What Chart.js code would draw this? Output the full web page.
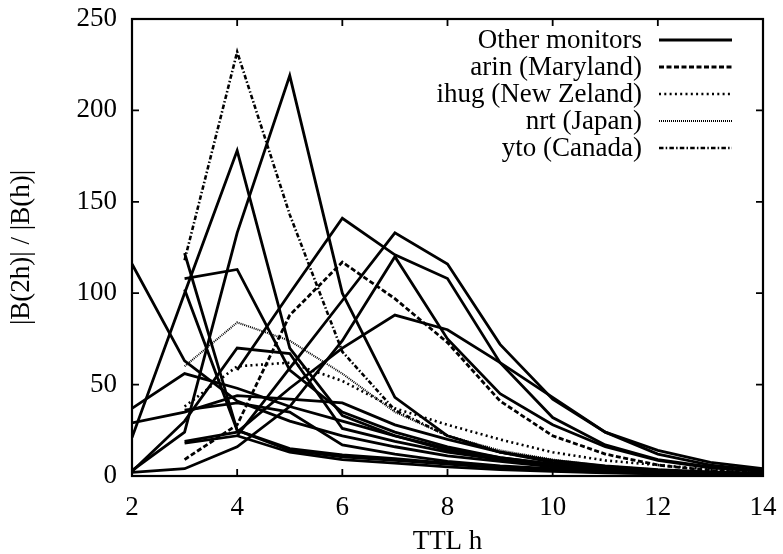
<!DOCTYPE html>
<html>
<head>
<meta charset="utf-8">
<script src="https://cdn.jsdelivr.net/npm/chart.js@4.4.1/dist/chart.umd.min.js"></script>
<style>
  html, body { margin: 0; padding: 0; background: #fff; }
  #wrap { width: 783px; height: 554px; }
</style>
</head>
<body>
<div id="wrap"><canvas id="chart" width="783" height="554"></canvas></div>
<script>
// TTL values on the x axis
const ttl = [2, 3, 4, 5, 6, 7, 8, 9, 10, 11, 12, 13, 14];
const xTicks = [2, 4, 6, 8, 10, 12, 14];
const yTicks = [0, 50, 100, 150, 200, 250];

// named monitors
const arin = [null, 9, 28, 88, 117, 97, 73, 41, 22, 12, 6, 3, 1.5];
const ihug = [null, 38, 60, 62, 52, 37, 28, 20, 13, 8.5, 6, 3.5, 2];
const nrt = [null, 60, 84, 74, 56, 35, 22, 14, 9, 5.5, 3.5, 2, 1.2];
const yto = [null, 118, 232, 143, 68, 36, 22, 13, 8, 5, 3, 2, 1];

// other monitors
const other1 = [116, 63, 41, 30, 22, 16, 11, 8, 5, 3.5, 2, 1.5, 1];
const other2 = [37, 56, 48, 38, 30, 22, 15, 10, 6.5, 4, 2.5, 1.8, 1.2];
const other3 = [29, 35, 44, 42, 40, 28, 20, 13, 8.5, 5.5, 3.5, 2.2, 1.5];
const other4 = [21, 100, 178, 70, 33, 22, 14, 9, 6, 4, 2.5, 1.5, 1];
const other5 = [null, 122, 25, 14, 10.5, 8.5, 6.5, 4.5, 3, 2, 1.3, 1, 0.7];
const other6 = [null, 102, 25, 15, 11.5, 9.5, 7, 5, 3.5, 2.3, 1.5, 1, 0.7];
const other7 = [null, 108, 113, 58, 35, 24, 16, 10, 6.5, 4, 2.5, 1.5, 1];
const other8 = [2.5, 30, 70, 67, 26, 19, 13, 9, 6, 4, 2.5, 1.5, 1];
const other9 = [3, 24, 133, 219, 100, 43, 22, 13, 7.5, 4.5, 2.8, 1.8, 1.2];
const other10 = [2, 4, 16, 38, 74, 120, 75, 45, 28, 16, 8.5, 4.5, 2.5];
const other11 = [null, null, 58, 100, 141, 121, 108, 62, 32, 17, 9, 5, 3];
const other12 = [null, 18, 22, 59, 96, 133, 116, 72, 42, 24, 12, 6, 3];
const other13 = [null, 19, 24, 48, 70, 88, 80, 62, 43, 24, 14, 7.5, 4];
const other14 = [null, 36, 40, 35, 17, 12, 8, 5.5, 4, 2.5, 1.6, 1, 0.6];
const other15 = [null, null, 22, 13, 9, 7, 5, 3.5, 2.5, 1.7, 1.2, 0.8, 0.5];
const others = [other1, other2, other3, other4, other5, other6, other7, other8,
  other9, other10, other11, other12, other13, other14, other15];

const legendLabels = ['Other monitors', 'arin (Maryland)', 'ihug (New Zeland)', 'nrt (Japan)', 'yto (Canada)'];
const legendDashes = [[], [5, 2.5], [2, 3.3], [1, 1], [4.5, 2.2, 1.5, 2.2]];
const legendWidths = [2.8, 2.8, 2.6, 2, 2.6];

const FONT = '"Liberation Serif", "Times New Roman", serif';
const FONT_SIZE = 27;

function toPoints(values) {
    return values.map((v, i) => ({ x: ttl[i], y: v }));
}

function series(values, dash, width) {
    return {
        data: toPoints(values),
        borderColor: '#000',
        borderWidth: width,
        borderDash: dash,
        pointRadius: 0,
        fill: false,
        tension: 0,
        spanGaps: false,
    };
}

const datasets = others.map(v => series(v, [], 2.8));
datasets.push(series(arin, legendDashes[1], legendWidths[1]));
datasets.push(series(ihug, legendDashes[2], legendWidths[2]));
datasets.push(series(nrt, legendDashes[3], legendWidths[3]));
datasets.push(series(yto, legendDashes[4], legendWidths[4]));

// gnuplot-like frame, inward ticks on all sides, and key in the top right
const framePlugin = {
    id: 'frame',
    afterDatasetsDraw(chart) {
        const { ctx, chartArea: a, scales: { x, y } } = chart;
        ctx.save();
        ctx.strokeStyle = '#000';
        ctx.lineWidth = 1.8;
        ctx.beginPath();
        xTicks.forEach(v => {
            const px = x.getPixelForValue(v);
            ctx.moveTo(px, a.bottom); ctx.lineTo(px, a.bottom - 7);
            ctx.moveTo(px, a.top); ctx.lineTo(px, a.top + 7);
        });
        yTicks.forEach(v => {
            const py = y.getPixelForValue(v);
            ctx.moveTo(a.left, py); ctx.lineTo(a.left + 7, py);
            ctx.moveTo(a.right, py); ctx.lineTo(a.right - 7, py);
        });
        ctx.stroke();
        ctx.lineWidth = 2.2;
        ctx.strokeRect(a.left, a.top, a.right - a.left, a.bottom - a.top);

        // key
        ctx.font = FONT_SIZE + 'px ' + FONT;
        ctx.fillStyle = '#000';
        ctx.textAlign = 'right';
        ctx.textBaseline = 'middle';
        legendLabels.forEach((label, i) => {
            const ly = 40 + i * 27;
            ctx.fillText(label, 642, ly + 1);
            ctx.beginPath();
            ctx.setLineDash(legendDashes[i]);
            ctx.lineWidth = legendWidths[i];
            ctx.moveTo(659, ly);
            ctx.lineTo(732, ly);
            ctx.stroke();
        });
        ctx.restore();
    }
};

new Chart(document.getElementById('chart'), {
    type: 'line',
    data: { datasets: datasets },
    options: {
        responsive: false,
        animation: false,
        events: [],
        layout: { padding: { top: 19, right: 20, left: 0, bottom: 0 } },
        plugins: { legend: { display: false }, tooltip: { enabled: false } },
        scales: {
            x: {
                type: 'linear',
                min: 2,
                max: 14,
                afterBuildTicks: (s) => { s.ticks = xTicks.map(v => ({ value: v })); },
                ticks: { color: '#000', font: { family: FONT, size: FONT_SIZE }, padding: 16, maxRotation: 0 },
                grid: { display: false, drawTicks: false },
                border: { display: false },
                title: {
                    display: true, text: 'TTL h', color: '#000',
                    font: { family: FONT, size: FONT_SIZE, lineHeight: 1 },
                    padding: { top: 0, bottom: -1 }
                },
                afterFit: (s) => { s.height = 78; s.paddingLeft = 0; s.paddingRight = 0; }
            },
            y: {
                min: 0,
                max: 250,
                afterBuildTicks: (s) => { s.ticks = yTicks.map(v => ({ value: v })); },
                ticks: { color: '#000', font: { family: FONT, size: FONT_SIZE }, padding: 15 },
                grid: { display: false, drawTicks: false },
                border: { display: false },
                title: {
                    display: true, text: '|B(2h)| / |B(h)|', color: '#000',
                    font: { family: FONT, size: FONT_SIZE, lineHeight: 1 },
                    padding: { top: 8, bottom: 0 }
                },
                afterFit: (s) => { s.width = 132; s.paddingTop = 0; s.paddingBottom = 0; }
            }
        }
    },
    plugins: [framePlugin]
});
</script>
</body>
</html>
